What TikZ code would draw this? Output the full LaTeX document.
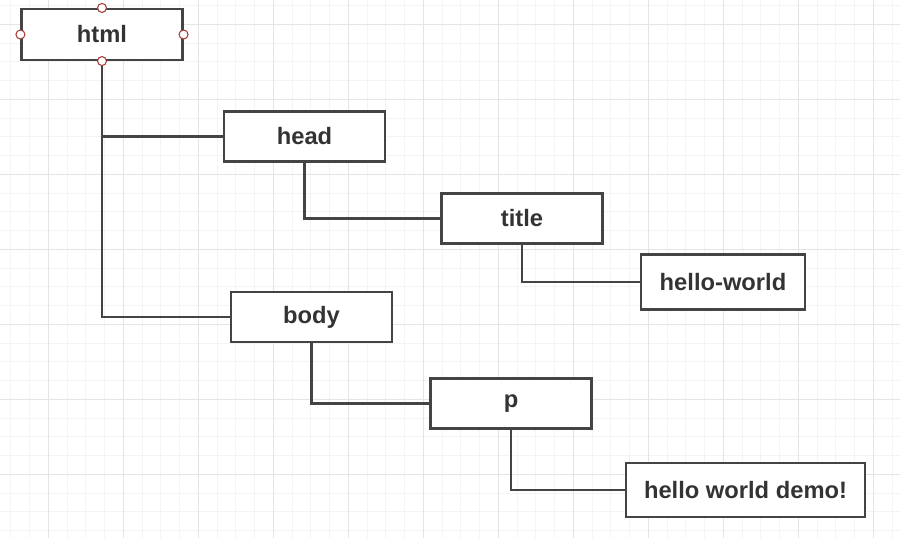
\documentclass[tikz,border=0pt]{standalone}
\usepackage{fontspec}
\setmainfont{Liberation Sans}
\usepackage{xcolor}

\definecolor{gridminor}{HTML}{F4F4F4}
\definecolor{gridmajor}{HTML}{E4E4E4}
\definecolor{boxline}{HTML}{444444}
\definecolor{boxtext}{HTML}{333333}
\definecolor{handle}{HTML}{A33A35}

\tikzset{
  tag/.style={draw=boxline,line width=1.2pt,fill=white,text=boxtext,
    font=\bfseries\fontsize{13.5}{16}\selectfont,
    minimum width=3.22cm,minimum height=1cm,inner sep=0pt},
  link/.style={draw=boxline,line width=1.2pt},
  grip/.style={circle,draw=handle,fill=white,line width=0.6pt,inner sep=0pt,minimum size=0.18cm}
}

\begin{document}
\begin{tikzpicture}
    \useasboundingbox (0,0) rectangle (18,-10.76);
    % background grid
    \foreach \i in {0,...,47}
        \draw[gridminor,line width=0.5pt] (0.216+\i*0.375,0) -- (0.216+\i*0.375,-10.76);
    \foreach \j in {0,...,28}
        \draw[gridminor,line width=0.5pt] (0,-0.112-\j*0.375) -- (18,-0.112-\j*0.375);
    \foreach \i in {0,...,11}
        \draw[gridmajor,line width=0.6pt] (0.966+\i*1.5,0) -- (0.966+\i*1.5,-10.76);
    \foreach \j in {0,...,7}
        \draw[gridmajor,line width=0.6pt] (0,-0.486-\j*1.5) -- (18,-0.486-\j*1.5);

    % tree
    \node (html) at (2.04,-0.69) [tag,minimum height=1.02cm] {html};
    \node (head) at (6.09,-2.73) [tag] {head};
    \node (title) at (10.44,-4.37) [tag] {title};
    \node (hello) at (14.46,-5.64) [tag,minimum width=3.28cm,minimum height=1.1cm] {hello-world};
    \node (body) at (6.23,-6.34) [tag] {body};
    \node (p) at (10.22,-8.07) [tag] {p};
    \node (demo) at (14.91,-9.8) [tag,minimum width=4.78cm,minimum height=1.08cm] {hello world demo!};

    \draw[link] (html.south) |- (head.west) (html.south) |- (body.west);
    \draw[link] (head.south) |- (title.west);
    \draw[link] (title.south) |- (hello.west);
    \draw[link] (body.south) |- (p.west);
    \draw[link] (p.south) |- (demo.west);

    % selection handles
    \node (hn) at (html.north) [grip] {};
    \node (hs) at (html.south) [grip] {};
    \node (he) at (html.east) [grip] {};
    \node (hw) at (html.west) [grip] {};
\end{tikzpicture}
\end{document}
